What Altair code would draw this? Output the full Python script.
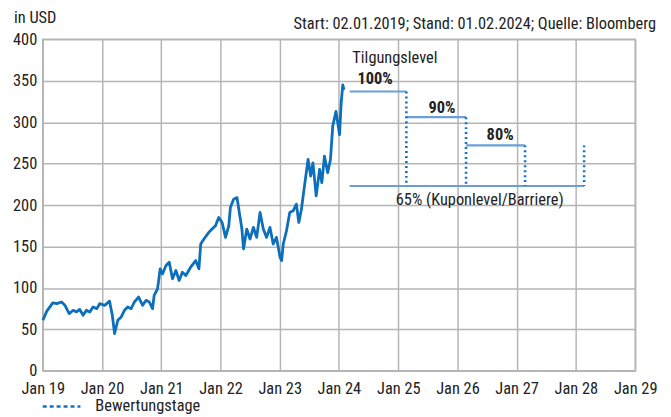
import altair as alt
import pandas as pd

FONT = "Liberation Sans Narrow, Roboto Condensed, Arial Narrow, sans-serif"

# ---- price series ----
dates = [
    "2019-01-02", "2019-01-26", "2019-03-04", "2019-03-29", "2019-04-27", "2019-05-18",
    "2019-06-13", "2019-07-08", "2019-07-28", "2019-08-17", "2019-09-07", "2019-09-27",
    "2019-10-18", "2019-11-07", "2019-12-01", "2019-12-18", "2020-01-18", "2020-02-17",
    "2020-03-05", "2020-03-19", "2020-04-08", "2020-04-29", "2020-05-19", "2020-06-08",
    "2020-06-29", "2020-07-19", "2020-08-14", "2020-09-08", "2020-09-29", "2020-10-19",
    "2020-11-08", "2020-11-18", "2020-12-09", "2020-12-25", "2021-01-09", "2021-01-30",
    "2021-02-19", "2021-03-11", "2021-04-01", "2021-04-21", "2021-05-11", "2021-06-01",
    "2021-07-01", "2021-08-01", "2021-08-21", "2021-09-01", "2021-09-21", "2021-10-21",
    "2021-11-10", "2021-12-01", "2021-12-21", "2022-01-11", "2022-02-01", "2022-02-21",
    "2022-03-03", "2022-03-23", "2022-04-13", "2022-04-27", "2022-05-13", "2022-05-23",
    "2022-06-12", "2022-07-02", "2022-07-23", "2022-08-12", "2022-09-02", "2022-09-22",
    "2022-10-12", "2022-11-02", "2022-11-22", "2022-12-12", "2023-01-03", "2023-01-13",
    "2023-01-23", "2023-02-12", "2023-03-04", "2023-03-25", "2023-04-14", "2023-04-29",
    "2023-05-15", "2023-05-31", "2023-06-25", "2023-07-11", "2023-07-25", "2023-08-14",
    "2023-09-04", "2023-09-18", "2023-10-04", "2023-10-24", "2023-11-10", "2023-11-24",
    "2023-12-14", "2024-01-05", "2024-01-15", "2024-01-25", "2024-02-01",
]
prices = [
    61, 72, 82, 81, 83, 79,
    69, 73, 71, 74, 67, 73,
    71, 77, 75, 81, 79, 84,
    67, 45, 61, 65, 73, 77,
    75, 83, 89, 79, 85, 83,
    75, 91, 99, 123, 117, 127,
    131, 111, 121, 109, 119, 115,
    125, 133, 123, 153, 159, 167,
    171, 175, 185, 179, 161, 175,
    197, 207, 209, 191, 171, 147,
    171, 159, 173, 161, 191, 171,
    161, 173, 153, 161, 137, 133,
    153, 169, 191, 193, 201, 179,
    195, 219, 255, 235, 251, 211,
    243, 227, 259, 239, 255, 295,
    313, 285, 323, 345, 339,
]

# ---- redemption levels ----
level_start = ["2024-03-07", "2025-02-20", "2026-02-23", "2024-03-07"]
level_end = ["2025-02-20", "2026-02-23", "2027-02-22", "2028-02-21"]
level_value = [337, 306, 272, 223]

# ---- evaluation days (dotted) ----
eval_dates = ["2025-02-20", "2026-02-23", "2027-02-22", "2028-02-21"]
eval_top = [337, 306, 272, 272]
eval_bottom = [223, 223, 223, 223]

# ---- annotation labels ----
ann_text = ["Tilgungslevel", "100%", "90%", "80%", "65% (Kuponlevel/Barriere)"]
ann_date = ["2024-03-24", "2024-04-24", "2025-09-28", "2026-09-21", "2026-05-18"]
ann_value = [378, 352, 317, 285, 206]
ann_bold = [False, True, True, True, False]
ann_align = ["left", "left", "center", "center", "center"]

x_ticks = [f"{y}-01-01" for y in range(2019, 2030)]
y_ticks = [0, 50, 100, 150, 200, 250, 300, 350, 400]

price_df = pd.DataFrame({"date": pd.to_datetime(dates), "value": prices})
level_df = pd.DataFrame({"start": pd.to_datetime(level_start), "end": pd.to_datetime(level_end), "value": level_value})
eval_df = pd.DataFrame({"date": pd.to_datetime(eval_dates), "top": eval_top, "bottom": eval_bottom})
ann_df = pd.DataFrame({"date": pd.to_datetime(ann_date), "value": ann_value, "text": ann_text,
                       "bold": ann_bold, "align": ann_align})

GRID = "#b5b5b5"
FS = 16.5
TXT = "#222222"
xscale = alt.Scale(domain=[pd.Timestamp("2019-01-01"), pd.Timestamp("2029-01-01")])
yscale = alt.Scale(domain=[0, 400], nice=False)

xaxis = alt.Axis(values=[pd.Timestamp(v) for v in x_ticks], format="%b %y", title=None,
                 grid=True, gridColor=GRID, gridWidth=1.5, ticks=False, domain=False,
                 labelFlush=False, labelOverlap=False,
                 labelPadding=10, labelFontSize=FS, labelColor=TXT, labelFont=FONT)
yaxis = alt.Axis(values=y_ticks, title=None, grid=True, gridColor=GRID, gridWidth=1.5,
                 ticks=False, domain=False, labelPadding=6, labelFontSize=FS,
                 labelFlush=False, labelOverlap=False,
                 labelColor=TXT, labelFont=FONT)

base_x = alt.X("date:T", scale=xscale, axis=xaxis)
base_y = alt.Y("value:Q", scale=yscale, axis=yaxis)

line = alt.Chart(price_df).mark_line(color="#0b6fbc", strokeWidth=2.8, strokeJoin="round").encode(
    x=base_x, y=base_y
)

levels = alt.Chart(level_df).mark_rule(color="#6a9fd9", strokeWidth=2.2).encode(
    x=alt.X("start:T", scale=xscale), x2="end:T", y=alt.Y("value:Q", scale=yscale)
)

evals = alt.Chart(eval_df).mark_rule(color="#1672c4", strokeWidth=2.6, strokeDash=[2, 3]).encode(
    x=alt.X("date:T", scale=xscale), y=alt.Y("top:Q", scale=yscale), y2="bottom:Q"
)


def ann_layer(bold, align):
    sub = ann_df[(ann_df["bold"] == bold) & (ann_df["align"] == align)]
    kw = dict(align=align, baseline="middle", font=FONT, fontSize=FS, color=TXT)
    if bold:
        kw["fontWeight"] = "bold"
    return alt.Chart(sub).mark_text(**kw).encode(
        x=alt.X("date:T", scale=xscale), y=alt.Y("value:Q", scale=yscale), text="text:N"
    )


unit_lbl = alt.Chart(pd.DataFrame({"t": ["in USD"]})).mark_text(
    align="left", baseline="middle", font=FONT, fontSize=FS, color=TXT
).encode(x=alt.value(-29), y=alt.value(-21), text="t:N")

src_lbl = alt.Chart(pd.DataFrame({"t": ["Start: 02.01.2019; Stand: 01.02.2024; Quelle: Bloomberg"]})).mark_text(
    align="right", baseline="middle", font=FONT, fontSize=FS, color=TXT
).encode(x=alt.value(618), y=alt.value(-15), text="t:N")

leg_line = alt.Chart(pd.DataFrame({"t": [0]})).mark_rule(
    color="#1672c4", strokeWidth=2.6, strokeDash=[4, 3]
).encode(x=alt.value(0), x2=alt.value(38), y=alt.value(370))

leg_text = alt.Chart(pd.DataFrame({"t": ["Bewertungstage"]})).mark_text(
    align="left", baseline="middle", font=FONT, fontSize=FS, color=TXT
).encode(x=alt.value(53), y=alt.value(370), text="t:N")

chart = alt.layer(
    line, levels, evals,
    ann_layer(False, "left"), ann_layer(False, "center"),
    ann_layer(True, "left"), ann_layer(True, "center"),
    unit_lbl, src_lbl, leg_line, leg_text
).properties(
    width=597, height=334,
    autosize=alt.AutoSizeParams(type="none"),
    padding={"left": 35, "top": 30, "right": 28, "bottom": 44},
).configure(font=FONT).configure_view(stroke=GRID, strokeWidth=1.5)

chart.save("out.html", embed_options={"renderer": "svg", "actions": False})
